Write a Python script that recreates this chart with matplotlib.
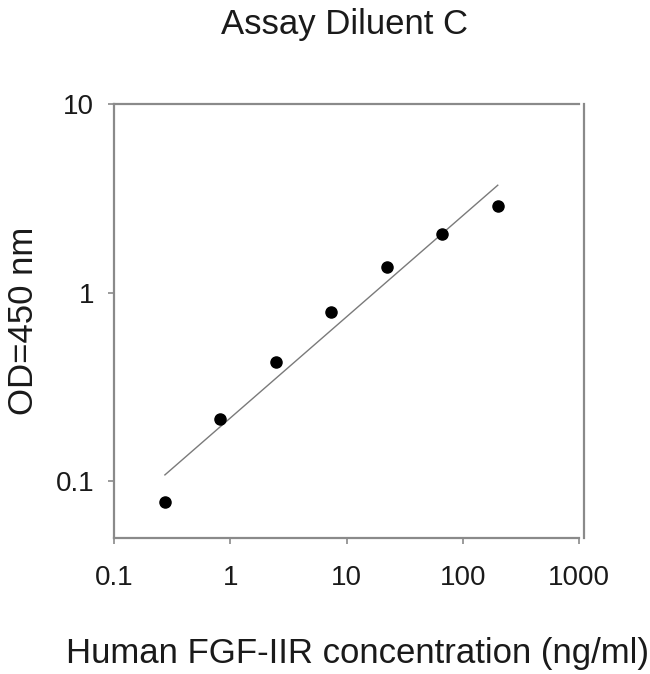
import matplotlib
matplotlib.use("Agg")
import matplotlib.pyplot as plt

plt.rcParams['font.family'] = ['Liberation Sans', 'DejaVu Sans']

# standard curve, 3-fold dilutions
conc = [0.274, 0.823, 2.47, 7.41, 22.2, 66.7, 200]
od = [0.0776, 0.215, 0.431, 0.786, 1.36, 2.04, 2.88]

# fitted line end points
fit_x = [0.274, 200]
fit_y = [0.108, 3.71]

xticks = [0.1, 1, 10, 100, 1000]
xtick_labels = ['0.1', '1', '10', '100', '1000']
yticks = [0.1, 1, 10]
ytick_labels = ['0.1', '1', '10']

spine_col = '#8a8a8a'
text_col = '#1a1a1a'

fig = plt.figure(figsize=(6.5, 6.74), dpi=100)
ax = fig.add_axes([0.1754, 0.2018, 0.7154, 0.6439])

ax.plot(fit_x, fit_y, color='#7a7a7a', lw=1.0, zorder=2)
ax.plot(conc, od, 'o', color='black', markersize=8, zorder=3)

ax.set_xscale('log')
ax.set_yscale('log')
ax.set_xlim(0.1, 1000)
ax.set_ylim(0.05, 10)

ax.set_xticks(xticks)
ax.set_xticklabels(xtick_labels)
ax.set_yticks(yticks)
ax.set_yticklabels(ytick_labels)
ax.minorticks_off()

ax.tick_params(axis='both', direction='out', length=4.3, width=1.2, color=spine_col,
               labelsize=20, labelcolor=text_col)
ax.tick_params(axis='x', pad=15.5)
ax.tick_params(axis='y', pad=10)

for s in ax.spines.values():
    s.set_color(spine_col)
    s.set_linewidth(1.6)
ax.spines['right'].set_position(('outward', 3.6))

ax.set_xlabel('Human FGF-IIR concentration (ng/ml)', fontsize=25, color=text_col, labelpad=33)
ax.xaxis.label.set_x(0.5236)
ax.set_ylabel('OD=450 nm', fontsize=25, color=text_col, labelpad=11)
fig.text(0.53, 0.963, 'Assay Diluent C', fontsize=25, color=text_col, ha='center', va='center')

fig.savefig('out.png', dpi=100, facecolor='white')
